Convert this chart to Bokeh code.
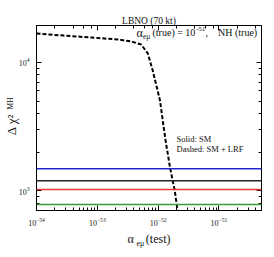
import math
from bokeh.plotting import figure
from bokeh.models import Range1d, LogAxis, LogTicker, FixedTicker, Label, Span
from bokeh.embed import file_html
from bokeh.resources import INLINE

# ---- data ----
alpha_test = [1.0e-54, 2.82e-54, 8.13e-54, 2.24e-53, 3.63e-53, 5.25e-53, 6.76e-53,
              8.13e-53, 1.07e-52, 1.32e-52, 1.58e-52, 1.86e-52, 2.09e-52]
chi2_lrf = [16790, 16180, 15630, 15070, 14550, 13800, 11750, 8670, 5070, 2480, 1480, 1020, 700]
sm_levels = [1484, 1195, 1020, 778]
sm_colors = ["#2424cc", "#222222", "#e83a3a", "#3c9c3c"]
x_limits = [1e-54, 5e-51]
y_limits = [700, 19400]
y_major = [1e3, 1e4]
y_minor = [700, 800, 900, 2000, 3000, 4000, 5000, 6000, 7000, 8000, 9000]

FONT = "Liberation Serif"

p = figure(width=274, height=257, x_axis_type="log", y_axis_type="log",
           x_range=Range1d(*x_limits), y_range=Range1d(*y_limits),
           output_backend="svg", toolbar_location=None,
           min_border_left=32, min_border_right=13, min_border_top=25, min_border_bottom=46)
p.grid.visible = False
p.outline_line_color = "black"
p.outline_line_width = 1
p.background_fill_color = "white"

p.title.text = "LBNO (70 kt)"
p.title.align = "center"
p.title.text_font = FONT
p.title.text_font_size = "9.5px"
p.title.text_font_style = "normal"
p.title.text_color = "#111111"
p.title.standoff = 0

p.yaxis.ticker = FixedTicker(ticks=y_major, minor_ticks=y_minor)

for ax in [p.xaxis[0], p.yaxis[0]]:
    ax.major_tick_in = 5
    ax.major_tick_out = 0
    ax.minor_tick_in = 3
    ax.minor_tick_out = 0
    ax.axis_line_color = "black"
    ax.major_label_text_font = FONT
    ax.major_label_text_font_size = "8px"
    ax.major_label_text_color = "#222222"
    ax.axis_label_text_font = FONT
    ax.axis_label_text_font_style = "normal"
    ax.axis_label_text_color = "#111111"

p.xaxis.major_label_standoff = 7
p.xaxis.axis_label = "\u03b1\u2003(test)"
p.xaxis.axis_label_text_font_size = "12px"
p.xaxis.axis_label_standoff = 3

p.yaxis.major_label_standoff = 7
p.yaxis.axis_label = "\u0394 \u03c7\u00b2\u2003"
p.yaxis.axis_label_text_font_size = "13px"
p.yaxis.axis_label_standoff = -3

extra = {
    "right": LogAxis(ticker=FixedTicker(ticks=y_major, minor_ticks=y_minor)),
    "above": LogAxis(ticker=LogTicker()),
}
for loc, ax in extra.items():
    ax.major_tick_in = 5
    ax.major_tick_out = 0
    ax.minor_tick_in = 3
    ax.minor_tick_out = 0
    ax.major_label_text_color = None
    ax.major_label_text_font_size = "1px"
    ax.major_label_standoff = 0
    p.add_layout(ax, loc)

for lvl, col in zip(sm_levels, sm_colors):
    p.add_layout(Span(location=lvl, dimension="width", line_color=col, line_width=1.5))

p.line(alpha_test, chi2_lrf, line_color="black", line_width=2, line_dash="4 2")

def lab(text, x, y, size, place="center", **kw):
    p.add_layout(Label(text=text, x=x, y=y, x_units="screen", y_units="screen",
                       text_font=FONT, text_font_size=size, text_color="#111111", **kw), place)

# top annotation (inside frame)
lab("\u03b1", 100, 178, "12px", text_baseline="middle")
lab("e\u03bc", 106.5, 174.5, "7.5px", text_baseline="middle")
lab("(true) = 10", 116, 178, "10px", text_baseline="middle")
lab("-51", 159.5, 182, "7px", text_baseline="middle")
lab(",\u2002\u2002NH (true)", 169, 178, "10px", text_baseline="middle")
# legend text
lab("Solid: SM", 140, 72, "8.5px", text_baseline="middle")
lab("Dashed: SM + LRF", 140, 62, "8.5px", text_baseline="middle")
# subscripts of the axis titles (in side panels)
lab("e\u03bc", 100, 14, "8px", place="below", text_baseline="middle")
lab("MH", -251, 101, "7.5px", place="right", text_baseline="middle", angle=math.pi / 2)

open("out.html", "w").write(file_html(p, INLINE))
